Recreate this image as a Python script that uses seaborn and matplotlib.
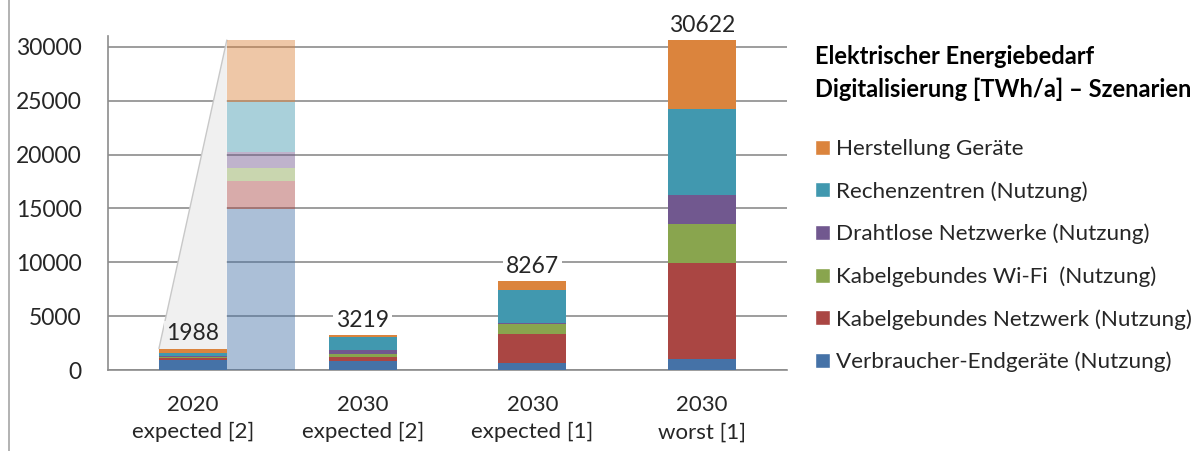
import pandas as pd
import seaborn as sns
import matplotlib.pyplot as plt
from matplotlib.patches import Patch, Polygon
from matplotlib.lines import Line2D

scenarios = ["2020\nexpected [2]", "2030\nexpected [2]", "2030\nexpected [1]", "2030\nworst [1]"]
components = [
    "Verbraucher-Endgeräte (Nutzung)",
    "Kabelgebundes Netzwerk (Nutzung)",
    "Kabelgebundes Wi-Fi  (Nutzung)",
    "Drahtlose Netzwerke (Nutzung)",
    "Rechenzentren (Nutzung)",
    "Herstellung Geräte",
]
endgeraete = [973, 845, 628, 1062]
netzwerk = [167, 405, 2672, 8841]
wifi = [75, 220, 943, 3624]
drahtlos = [97, 375, 150, 2718]
rechenzentren = [303, 1187, 3057, 7938]
herstellung = [373, 187, 817, 6439]
totals = [1988, 3219, 8267, 30622]
colors = ["#4572A7", "#AA4643", "#89A54E", "#71588F", "#4198AF", "#DB843D"]
title = "Elektrischer Energiebedarf\nDigitalisierung [TWh/a] – Szenarien"

df = pd.DataFrame(
    dict(zip(components, [endgeraete, netzwerk, wifi, drahtlos, rechenzentren, herstellung])),
    index=scenarios,
)
cum = df.cumsum(axis=1)

sns.set_style("white")
plt.rcParams["font.family"] = ["Lato", "DejaVu Sans"]
plt.rcParams["font.size"] = 16
grey = "#8C8C8C"
txt = "#262626"

fig = plt.figure(figsize=(12.04, 4.51), dpi=100)
ax = fig.add_axes([0.0897, 0.1796, 0.5640, 0.7406])

# stacked bars: draw cumulative heights, tallest first
for comp, col in reversed(list(zip(components, colors))):
    sns.barplot(x=scenarios, y=cum[comp].values, color=col, width=0.4, saturation=1,
                errorbar=None, linewidth=0, ax=ax, zorder=3)

# magnified view of the 2020 bar
zoom = max(totals) / totals[0]
first = df.iloc[0] * zoom
bottom = 0
for comp, col in zip(components, colors):
    ax.bar(0.4, first[comp], bottom=bottom, width=0.4, color=col, alpha=0.45,
           linewidth=0, zorder=3)
    bottom += first[comp]
ax.add_patch(Polygon([(-0.2, totals[0]), (0.2, bottom), (0.2, 0), (-0.2, 0)],
                     closed=True, facecolor="#F0F0F0", edgecolor="none", zorder=1))
ax.plot([-0.2, 0.2], [totals[0], bottom], color="#C8C8C8", lw=1, zorder=2)

for i, t in enumerate(totals):
    fc = "#F0F0F0" if i == 0 else "white"
    ax.annotate(str(t), (i, t), xytext=(0, 3), textcoords="offset points",
                ha="center", va="bottom", color=txt, fontsize=16.5, zorder=4,
                bbox=dict(boxstyle="square,pad=0.12", fc=fc, ec="none"))

ax.set_ylim(0, 31000)
ax.set_xlim(-0.5, 3.5)
ax.set_yticks(range(0, 30001, 5000))
ax.set_xticks([-0.5, 0.5, 1.5, 2.5, 3.5])
ax.set_xticklabels([])
ax.set_xticks(range(4), minor=True)
ax.set_xticklabels(scenarios, minor=True, linespacing=1.45)
ax.tick_params(axis="x", which="major", length=8, color=grey, direction="out")
ax.tick_params(axis="x", which="minor", length=0, pad=18, labelcolor=txt, labelsize=16)
ax.tick_params(axis="y", length=8, color=grey, direction="out", pad=11,
               labelcolor=txt, labelsize=16.5)
ax.set_xlabel("")
ax.set_ylabel("")
ax.yaxis.grid(True, color=grey, lw=1.2, zorder=0)
ax.xaxis.grid(False)
ax.set_axisbelow(True)
for s in ["top", "right"]:
    ax.spines[s].set_visible(False)
for s in ["left", "bottom"]:
    ax.spines[s].set_color(grey)
    ax.spines[s].set_linewidth(1.2)

fig.add_artist(Line2D([0.0075, 0.0075], [0, 1], transform=fig.transFigure,
                      color="#A6A6A6", lw=1.2))

fig.text(815 / 1204, 1 - 73 / 451, title, ha="left", va="center",
         fontweight="bold", fontsize=17, color="black", linespacing=1.45)
handles = [Patch(facecolor=c) for c in reversed(colors)]
fig.legend(handles, list(reversed(components)), loc="upper left",
           bbox_to_anchor=(815 / 1204, 1 - 139 / 451), frameon=False, borderpad=0,
           borderaxespad=0, handlelength=0.65, handleheight=0.65, handletextpad=0.3,
           labelspacing=0.98, fontsize=16.2, labelcolor=txt)

fig.savefig("out.png", dpi=100)
